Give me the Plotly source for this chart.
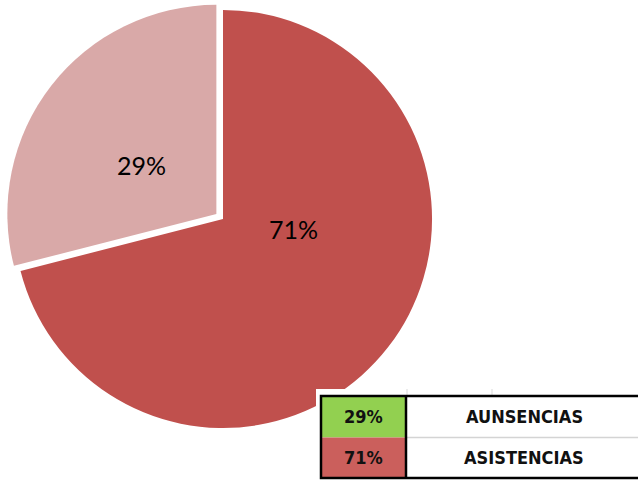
import plotly.graph_objects as go

labels = ["ASISTENCIAS", "AUNSENCIAS"]
values = [71, 29]
slice_colors = ["#C0504D", "#D9A9A8"]
pulls = [0, 0.04]

table_rows = ["AUNSENCIAS", "ASISTENCIAS"]
table_pct = [29, 71]
table_cell_colors = ["#92D050", "#CB5F5C"]

W, H = 638, 480


def px(x):
    return x / W


def py(y):
    return 1 - y / H


fig = go.Figure()
fig.add_trace(go.Pie(
    labels=labels,
    values=values,
    marker=dict(colors=slice_colors, line=dict(width=0)),
    pull=pulls,
    sort=False,
    direction="clockwise",
    rotation=0,
    textinfo="none",
    hoverinfo="label+percent",
    showlegend=False,
    domain=dict(x=[px(223 - 217.4), px(223 + 217.4)],
                y=[py(219 + 217.4), py(219 - 217.4)]),
))

total = sum(values)
label_pos = {"ASISTENCIAS": (293, 228.5), "AUNSENCIAS": (141.5, 165.5)}
annotations = []
for lab, v in zip(labels, values):
    x, y = label_pos[lab]
    annotations.append(dict(
        x=px(x), y=py(y), xref="paper", yref="paper",
        text=f"{round(100 * v / total)}%", showarrow=False,
        font=dict(family="Lato, Open Sans, sans-serif", size=25, color="#000000"),
        xanchor="center", yanchor="middle",
    ))

shapes = []
# white block covering the pie
shapes.append(dict(type="rect", xref="paper", yref="paper", layer="above",
                   x0=px(316), x1=px(640), y0=py(482), y1=py(389),
                   fillcolor="white", line=dict(width=0)))
# faint spreadsheet gridlines above table
for gx in [407, 492]:
    shapes.append(dict(type="line", xref="paper", yref="paper", layer="above",
                       x0=px(gx), x1=px(gx), y0=py(389), y1=py(396),
                       line=dict(color="#D9D9D9", width=1)))

row_top = [396, 437.5]
row_bot = [437.5, 478]
tfont = "DejaVu Sans Condensed, Liberation Sans Narrow, sans-serif"
for i, (name, pct, col) in enumerate(zip(table_rows, table_pct, table_cell_colors)):
    shapes.append(dict(type="rect", xref="paper", yref="paper", layer="above",
                       x0=px(321), x1=px(406), y0=py(row_bot[i]), y1=py(row_top[i]),
                       fillcolor=col, line=dict(width=0)))
    cy = (row_top[i] + row_bot[i]) / 2
    annotations.append(dict(
        x=px(363.5), y=py(cy), xref="paper", yref="paper",
        text=f"<b>{pct}%</b>", showarrow=False,
        font=dict(family=tfont, size=18, color="#111111"),
        xanchor="center", yanchor="middle",
    ))
    annotations.append(dict(
        x=px(524), y=py(cy), xref="paper", yref="paper",
        text=f"<b>{name}</b>", showarrow=False,
        font=dict(family=tfont, size=18, color="#111111"),
        xanchor="center", yanchor="middle",
    ))

# light row divider in right column
shapes.append(dict(type="line", xref="paper", yref="paper", layer="above",
                   x0=px(407), x1=px(640), y0=py(437.5), y1=py(437.5),
                   line=dict(color="#D4D4D4", width=1.5)))
# table borders
shapes.append(dict(type="rect", xref="paper", yref="paper", layer="above",
                   x0=px(321), x1=px(642), y0=py(478), y1=py(396),
                   fillcolor="rgba(0,0,0,0)", line=dict(color="#000000", width=2.5)))
shapes.append(dict(type="line", xref="paper", yref="paper", layer="above",
                   x0=px(406), x1=px(406), y0=py(478), y1=py(396),
                   line=dict(color="#000000", width=2.5)))

fig.update_layout(
    width=W, height=H,
    margin=dict(l=0, r=0, t=0, b=0),
    paper_bgcolor="white",
    plot_bgcolor="white",
    shapes=shapes,
    annotations=annotations,
)

fig.write_html(
    "out.html",
    config={"displayModeBar": False},
    post_script="document.body.style.margin='0';document.body.style.padding='0';document.body.style.overflow='hidden';",
)
